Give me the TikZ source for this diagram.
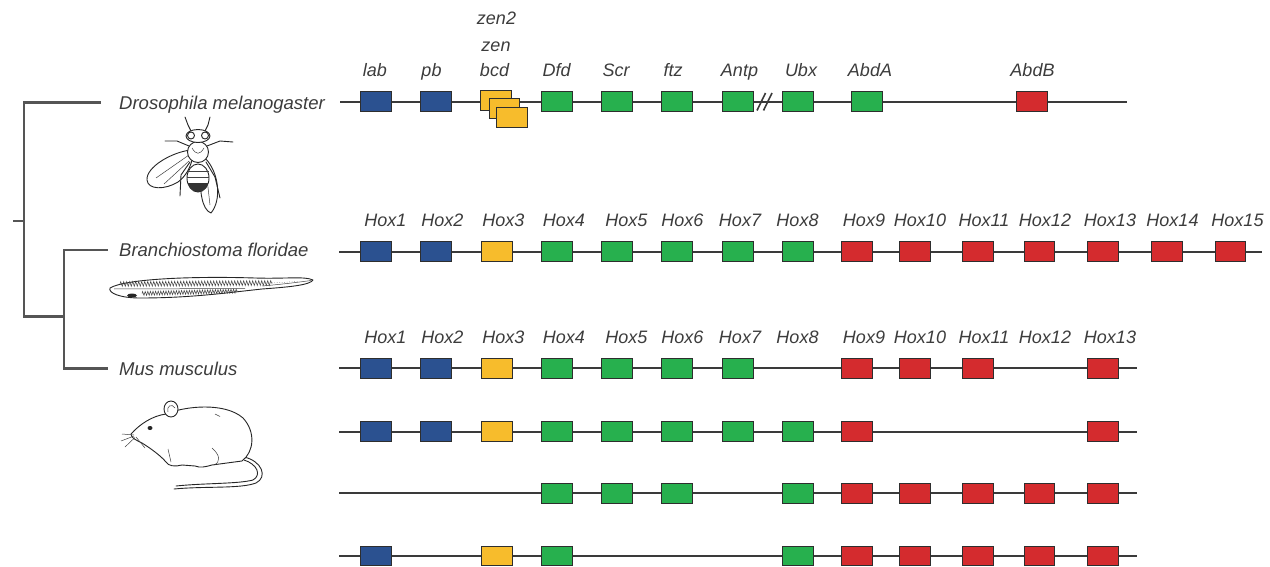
\documentclass[tikz,border=0pt]{standalone}
\usepackage{fontspec}
\setmainfont{Liberation Sans}
\usetikzlibrary{decorations.pathmorphing}
\definecolor{hblue}{HTML}{2B5190}
\definecolor{hyellow}{HTML}{F7BC2C}
\definecolor{hgreen}{HTML}{27B04E}
\definecolor{hred}{HTML}{D42B2E}
\definecolor{edgecol}{HTML}{2E2E2E}
\definecolor{chromcol}{HTML}{3A3A3A}
\definecolor{branchcol}{HTML}{555555}
\definecolor{lblcol}{HTML}{3C3C3C}
\newcommand\genefont{\fontsize{18}{20}\selectfont\itshape}
\newcommand\spfont{\fontsize{18.5}{21}\selectfont\itshape}

\begin{document}
\begin{tikzpicture}[x=1pt,y=-1pt,
  gene/.style={draw=edgecol,line width=1pt,minimum width=30.5pt,minimum height=19.5pt,inner sep=0pt},
  glabel/.style={anchor=base,font=\genefont,text=lblcol,inner sep=0pt},
  species/.style={anchor=base west,font=\spfont,text=lblcol,inner sep=0pt},
  chrom/.style={draw=chromcol,line width=2pt},
  tree/.style={draw=branchcol,line width=2.6pt},
  animal/.style={draw=black!85,line width=0.9pt,line join=round,line cap=round},
  fine/.style={draw=black!75,line width=0.5pt}]
\useasboundingbox (0,0) rectangle (1270,567);

% ---------- phylogeny ----------
\coordinate (root) at (13,221);
\coordinate (n1) at (24,221);
\coordinate (n1top) at (24,102.7);
\coordinate (n1bot) at (24,316.7);
\coordinate (n2) at (64,316.7);
\coordinate (n2top) at (64,250);
\coordinate (n2bot) at (64,368.3);
\coordinate (tD) at (100,102.7);
\coordinate (tB) at (107,250);
\coordinate (tM) at (107,368.3);
\draw[tree] (root) -- (n1);
\draw[tree,line cap=rect] (tD) -- (n1top) -- (n1bot) -- (n2);
\draw[tree,line cap=rect] (tB) -- (n2top) -- (n2bot) -- (tM);

\node[species] (spD) at (119,109.6) {Drosophila melanogaster};
\node[species] (spB) at (119,256.9) {Branchiostoma floridae};
\node[species] (spM) at (119,375.2) {Mus musculus};

% ---------- Drosophila cluster ----------
\coordinate (Ds) at (340,101.7);
\coordinate (De) at (1127,101.7);
\draw[chrom] (Ds) -- (De);
\node[gene,fill=hblue] (lab) at (376,101.5) {};
\node[gene,fill=hblue] (pb) at (436,101.5) {};
\node[gene,fill=hyellow] (zen2) at (496.2,100.4) {};
\node[gene,fill=hyellow] (zen) at (504.5,108.7) {};
\node[gene,fill=hyellow] (bcd) at (512.2,117.3) {};
\node[gene,fill=hgreen] (Dfd) at (557,101.5) {};
\node[gene,fill=hgreen] (Scr) at (617,101.5) {};
\node[gene,fill=hgreen] (ftz) at (677,101.5) {};
\node[gene,fill=hgreen] (Antp) at (738,101.5) {};
\node[gene,fill=hgreen] (Ubx) at (798,101.5) {};
\node[gene,fill=hgreen] (AbdA) at (867,101.5) {};
\node[gene,fill=hred] (AbdB) at (1032,101.5) {};
% break in the cluster
\coordinate (s1a) at (757,110.5);
\coordinate (s1b) at (765.5,93);
\coordinate (s2a) at (763.5,110.5);
\coordinate (s2b) at (772,93);
\draw[chrom,line width=1.6pt] (s1a) -- (s1b);
\draw[chrom,line width=1.6pt] (s2a) -- (s2b);

\foreach \n/\x/\y in {lab/375/77, pb/431.5/77, bcd/494.5/77, zen/496/51.7, zen2/496.5/25,
  Dfd/556.7/77, Scr/616/77, ftz/673/77, Antp/739.5/77, Ubx/801/77, AbdA/870/77, AbdB/1032.5/77}
  \node[glabel] (L-\n) at (\x,\y) {\n};

% ---------- Branchiostoma cluster ----------
\coordinate (Bs) at (339,251.7);
\coordinate (Be) at (1262,251.7);
\draw[chrom] (Bs) -- (Be);
\foreach \i/\x/\lx/\c in {1/376/385.5/hblue, 2/436/442.5/hblue, 3/497/503.5/hyellow,
  4/557/564/hgreen, 5/617/626.5/hgreen, 6/677/682.5/hgreen, 7/738/740/hgreen, 8/798/797.5/hgreen,
  9/857/864/hred, 10/915/920/hred, 11/978/984/hred, 12/1039.5/1045/hred, 13/1103/1110/hred,
  14/1167/1172.5/hred, 15/1230.5/1237.5/hred}{
  \node[gene,fill=\c] (B\i) at (\x,251.7) {};
  \node[glabel] (BL\i) at (\lx,226.7) {Hox\i};
}

% ---------- Mus clusters ----------
\foreach \i/\lx in {1/385.5, 2/442.5, 3/503.5, 4/564, 5/626.5, 6/682.5, 7/740, 8/797.5,
  9/864, 10/920, 11/984, 12/1045, 13/1110}
  \node[glabel] (ML\i) at (\lx,343.3) {Hox\i};

% cluster A
\coordinate (MAs) at (339,368.3);
\coordinate (MAe) at (1137,368.3);
\draw[chrom] (MAs) -- (MAe);
\foreach \i/\x/\c in {1/376/hblue, 2/436/hblue, 3/497/hyellow, 4/557/hgreen, 5/617/hgreen,
  6/677/hgreen, 7/738/hgreen, 9/857/hred, 10/915/hred, 11/978/hred, 13/1103/hred}
  \node[gene,fill=\c] (MA\i) at (\x,368.3) {};

% cluster B
\coordinate (MBs) at (339,431.7);
\coordinate (MBe) at (1137,431.7);
\draw[chrom] (MBs) -- (MBe);
\foreach \i/\x/\c in {1/376/hblue, 2/436/hblue, 3/497/hyellow, 4/557/hgreen, 5/617/hgreen,
  6/677/hgreen, 7/738/hgreen, 8/798/hgreen, 9/857/hred, 13/1103/hred}
  \node[gene,fill=\c] (MB\i) at (\x,431.7) {};

% cluster C
\coordinate (MCs) at (339,493.3);
\coordinate (MCe) at (1137,493.3);
\draw[chrom] (MCs) -- (MCe);
\foreach \i/\x/\c in {4/557/hgreen, 5/617/hgreen, 6/677/hgreen, 8/798/hgreen,
  9/857/hred, 10/915/hred, 11/978/hred, 12/1039.5/hred, 13/1103/hred}
  \node[gene,fill=\c] (MC\i) at (\x,493.3) {};

% cluster D
\coordinate (MDs) at (339,556);
\coordinate (MDe) at (1137,556);
\draw[chrom] (MDs) -- (MDe);
\foreach \i/\x/\c in {1/376/hblue, 3/497/hyellow, 4/557/hgreen, 8/798/hgreen,
  9/857/hred, 10/915/hred, 11/978/hred, 12/1039.5/hred, 13/1103/hred}
  \node[gene,fill=\c] (MD\i) at (\x,556) {};

% ---------- fruit fly ----------
\draw[animal] (192,133) -- (188,125) -- (185,117);
\draw[animal] (204,133) -- (208,125) -- (210,117);
\draw[animal,fill=white] (191,150) .. controls (172,152) and (146,167) .. (147,180)
  .. controls (148,190) and (165,190) .. (178,182) .. controls (186,176) and (190,168) .. (192,160);
\draw[fine] (189,155) -- (156,178);
\draw[fine] (189,161) -- (164,184);
\draw[animal,fill=white] (205,158) .. controls (219,172) and (222,200) .. (211,213)
  .. controls (202,210) and (199,190) .. (201,170);
\draw[fine] (206,170) -- (210,205);
\draw[animal] (189,146) -- (177,141) -- (165,141);
\draw[animal] (207,146) -- (220,141) -- (233,142);
\draw[animal] (190,162) -- (181,175) -- (180,196);
\draw[animal] (206,162) -- (215,177) -- (220,198);
\draw[animal,fill=white] (198,178) ellipse (11 and 14);
\begin{scope}
  \clip (198,178) ellipse (11 and 14);
  \fill[black!80] (180,183) rectangle (216,193);
\end{scope}
\draw[fine] (187.5,171) -- (208.5,171);
\draw[fine] (187,177) -- (209,177);
\draw[animal,fill=white] (198,152) ellipse (10.5 and 10.5);
\draw[fine] (192,148) .. controls (196,155) and (200,155) .. (204,148);
\draw[animal,fill=white] (198,136) ellipse (12 and 6.5);
\draw[animal,fill=white] (191,135.5) circle (3.5);
\draw[animal,fill=white] (205,135.5) circle (3.5);

% ---------- lancelet ----------
\draw[animal,fill=white] (110,288) .. controls (125,279) and (190,276) .. (255,278)
  .. controls (285,279) and (305,276) .. (313,280) .. controls (310,285) and (290,287) .. (262,289)
  .. controls (225,293) and (190,298) .. (140,298) .. controls (120,298) and (108,293) .. (110,288) -- cycle;
\draw[fine,decorate,decoration={zigzag,segment length=3pt,amplitude=2.4pt}] (120,284) -- (272,283);
\draw[fine,dotted] (272,283) -- (298,281.5);
\draw[fine,decorate,decoration={zigzag,segment length=2.6pt,amplitude=2pt}] (142,293.5) -- (238,291);
\draw[fine] (114,289) -- (245,288.5);
\draw[fine] (262,286) .. controls (285,284) and (300,282) .. (311,280.5);
\fill[black!85] (132,295.5) ellipse (5 and 2);

% ---------- mouse ----------
\draw[animal] (244,457) .. controls (262,461) and (268,477) .. (256,483)
  .. controls (240,489) and (205,486) .. (174,489);
\draw[animal] (244,460) .. controls (257,464) and (262,475) .. (253,480)
  .. controls (238,484) and (205,483) .. (176,486);
\draw[animal,fill=white] (131,434) .. controls (140,424) and (152,416) .. (166,414)
  .. controls (185,406) and (225,402) .. (243,418) .. controls (256,432) and (254,452) .. (242,461)
  -- (212,465) .. controls (205,467) and (200,468) .. (195,466) -- (182,465)
  .. controls (175,467) and (168,466) .. (166,462) .. controls (160,455) and (150,448) .. (142,443)
  .. controls (136,440) and (131,438) .. (131,434) -- cycle;
\draw[animal,fill=white] (171,409) ellipse (7 and 8);
\draw[fine] (168,412) .. controls (166,406) and (172,403) .. (175,408);
\draw[fine] (212,448) .. controls (220,455) and (221,462) .. (214,465);
\draw[fine] (168,449) -- (171,462);
\draw[fine] (215,414) -- (220,416.5);
\fill[black!85] (150,428) ellipse (2.5 and 2);
\draw[fine] (134,436) -- (121,441);
\draw[fine] (135,437.5) -- (125,447);
\draw[fine] (136,437) -- (145,448);
\draw[fine] (134,435) -- (122,434);
\end{tikzpicture}
\end{document}
